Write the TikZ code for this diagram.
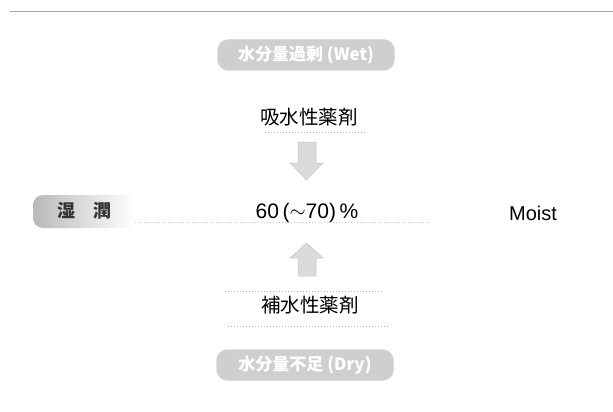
\documentclass[tikz,border=0pt]{standalone}
\usepackage{fontspec}
\setmainfont{Liberation Sans}
\newfontfamily\cjk{Noto Sans CJK JP}
\begin{document}
\begin{tikzpicture}[x=1pt,y=-1pt,
  pill/.style={draw=gray!35,fill=gray!38,rounded corners=11pt,minimum width=177pt,minimum height=31pt,inner sep=0pt,text=white,font=\cjk\bfseries\fontsize{17}{17}\selectfont},
  lbl/.style={inner sep=0pt,font=\cjk\fontsize{19.5}{19.5}\selectfont},
  bigarrow/.style={draw=gray!45,fill=gray!28,line width=0.5pt},
  dotline/.style={gray!60,line width=0.6pt,dash pattern=on 1pt off 2pt}]
\useasboundingbox (0,0) rectangle (613,412);
\fill[white] (0,0) rectangle (613,412);
% top rule
\coordinate (tl) at (10,11); \coordinate (tr) at (613,11);
\draw[gray!70,line width=0.8pt] (tl) -- (tr);
% nodes
\node[pill] (wet) at (306,55) {水分量過剰 (Wet)};
\node[lbl] (absorb) at (309,117) {吸水性薬剤};
\node[inner sep=0pt,font=\fontsize{21}{21}\selectfont] (pct) at (307,213) {60\,(\raisebox{0.1ex}{$\sim$}70)\,\%};
\node[inner sep=0pt,font=\fontsize{20}{20}\selectfont] (moist) at (533,213) {Moist};
\node[lbl] (supply) at (310,305) {補水性薬剤};
\node[pill] (dry) at (305,365) {水分量不足 (Dry)};
% block arrows
\draw[bigarrow] (298,142) -- (316,142) -- (316,163) -- (323,163) -- (306.5,180) -- (290,163) -- (298,163) -- cycle;
\draw[bigarrow] (298,276) -- (316,276) -- (316,258) -- (323,258) -- (306.5,243) -- (290,258) -- (298,258) -- cycle;
% left label
\shade[left color=gray!55,right color=white,rounded corners=10pt] (33,195) rectangle (135,228);
\node[inner sep=0pt,font=\cjk\bfseries\fontsize{18}{18}\selectfont,text=black!80] (wetlbl) at (84,211) {湿\hspace{18pt}潤};
% dotted guide lines
\coordinate (d1a) at (265,132); \coordinate (d1b) at (365,132);
\draw[dotline] (d1a) -- (d1b);
\coordinate (d2a) at (135,222); \coordinate (d2b) at (430,222);
\draw[dotline,gray!40] (d2a) -- (d2b);
\coordinate (d3a) at (225,291); \coordinate (d3b) at (383,291);
\draw[dotline] (d3a) -- (d3b);
\coordinate (d4a) at (228,326); \coordinate (d4b) at (388,326);
\draw[dotline] (d4a) -- (d4b);
\end{tikzpicture}
\end{document}
